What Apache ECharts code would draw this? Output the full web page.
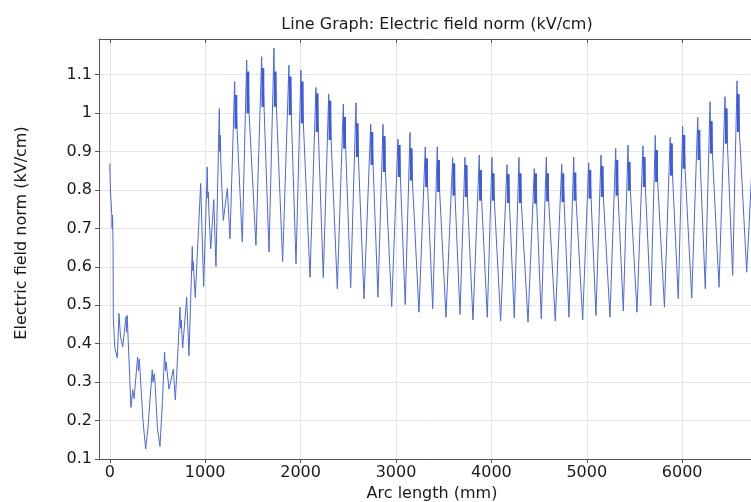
<!DOCTYPE html>
<html>
<head>
<meta charset="utf-8">
<script src="https://cdn.jsdelivr.net/npm/echarts@6/dist/echarts.min.js"></script>
<style>
html,body{margin:0;padding:0;background:#fff;}
#chart{width:751px;height:502px;}
</style>
</head>
<body>
<div id="chart"></div>
<script>
// Irregular start of the curve (arc length mm, field kV/cm)
const earlyX = [0, 7, 20, 25, 29, 34, 37, 52, 79, 96, 112, 135, 152, 170, 176, 182, 188, 201, 222, 240, 254, 292, 301, 309, 317, 348, 376, 400, 445, 453, 466, 474, 500, 526, 552, 575, 584, 592, 600, 621, 638, 666, 687, 710, 736, 742, 749, 753, 764, 806, 830, 865, 870, 876, 882, 896, 953, 984, 1022, 1027, 1033, 1038, 1058, 1090, 1113, 1148, 1153, 1159, 1164, 1190, 1202, 1232];
const earlyV = [0.869, 0.80, 0.739, 0.70, 0.735, 0.669, 0.47, 0.39, 0.363, 0.479, 0.42, 0.391, 0.386, 0.47, 0.43, 0.474, 0.44, 0.36, 0.234, 0.28, 0.257, 0.365, 0.33, 0.36, 0.33, 0.20, 0.126, 0.18, 0.332, 0.30, 0.322, 0.30, 0.18, 0.133, 0.25, 0.378, 0.33, 0.352, 0.33, 0.282, 0.278, 0.334, 0.254, 0.36, 0.495, 0.44, 0.462, 0.44, 0.389, 0.521, 0.369, 0.653, 0.59, 0.613, 0.578, 0.52, 0.817, 0.549, 0.86, 0.78, 0.795, 0.75, 0.647, 0.775, 0.601, 1.012, 0.90, 0.943, 0.87, 0.721, 0.718, 0.804];

// Regular periodic part: troughs and peaks of each period
const troughX = [1260, 1389, 1532, 1669, 1812, 1952, 2099, 2238, 2385, 2525, 2665, 2811, 2955, 3097, 3241, 3385, 3524, 3671, 3807, 3957, 4097, 4240, 4384, 4523, 4670, 4813, 4957, 5096, 5243, 5383, 5526, 5670, 5814, 5959, 6100, 6242, 6386, 6529, 6676];
const troughV = [0.673, 0.665, 0.656, 0.639, 0.614, 0.608, 0.573, 0.572, 0.543, 0.546, 0.517, 0.521, 0.497, 0.502, 0.482, 0.491, 0.469, 0.476, 0.462, 0.469, 0.459, 0.467, 0.456, 0.465, 0.459, 0.469, 0.462, 0.473, 0.469, 0.485, 0.482, 0.499, 0.495, 0.517, 0.519, 0.543, 0.547, 0.578, 0.586];
const peakX = [1309, 1435, 1592, 1721, 1878, 2004, 2161, 2295, 2448, 2581, 2735, 2864, 3021, 3147, 3307, 3433, 3594, 3723, 3873, 4006, 4164, 4289, 4450, 4576, 4737, 4863, 5020, 5149, 5303, 5432, 5589, 5718, 5874, 6005, 6163, 6292, 6449, 6575, 6780];
const peak1V = [1.082, 1.138, 1.147, 1.169, 1.125, 1.112, 1.067, 1.05, 1.024, 1.027, 0.971, 0.971, 0.932, 0.95, 0.912, 0.912, 0.884, 0.885, 0.891, 0.885, 0.866, 0.885, 0.856, 0.886, 0.867, 0.886, 0.871, 0.891, 0.908, 0.917, 0.915, 0.942, 0.937, 0.966, 0.989, 1.03, 1.043, 1.084, 1.10];
const peak2V = [1.047, 1.108, 1.117, 1.108, 1.095, 1.082, 1.051, 1.032, 0.99, 0.973, 0.951, 0.94, 0.917, 0.908, 0.882, 0.878, 0.869, 0.865, 0.852, 0.843, 0.841, 0.843, 0.843, 0.843, 0.843, 0.845, 0.852, 0.862, 0.878, 0.873, 0.886, 0.904, 0.921, 0.943, 0.956, 0.979, 1.012, 1.049, 1.06];
const bandV = [0.96, 1.0, 1.017, 1.017, 0.995, 0.974, 0.951, 0.93, 0.908, 0.886, 0.865, 0.847, 0.834, 0.825, 0.808, 0.795, 0.786, 0.782, 0.773, 0.773, 0.766, 0.766, 0.765, 0.771, 0.769, 0.773, 0.778, 0.782, 0.786, 0.799, 0.808, 0.821, 0.838, 0.856, 0.878, 0.895, 0.921, 0.951, 0.96];

const xTitle = 'Arc length (mm)';
const yTitle = 'Electric field norm (kV/cm)';
const chartTitle = 'Line Graph: Electric field norm (kV/cm)';

const pts = [];
for (let i = 0; i < earlyX.length; i++) pts.push([earlyX[i], earlyV[i]]);
const band = [];
for (let i = 0; i < troughX.length; i++) {
  pts.push([troughX[i], troughV[i]]);
  pts.push([peakX[i], peak1V[i]]);
  pts.push([peakX[i] + 9, bandV[i]]);
  pts.push([peakX[i] + 15, peak2V[i]]);
  pts.push([peakX[i] + 25, bandV[i]]);
  band.push([peakX[i] + 13, peak2V[i]]);
  band.push([peakX[i] + 13, bandV[i]]);
  band.push([peakX[i] + 13, null]);
}

const FONT = 'DejaVu Sans';
const TXT = '#1a1a1a';
const AX = '#555';
const chart = echarts.init(document.getElementById('chart'), null, {renderer: 'canvas'});
chart.setOption({
  animation: false,
  backgroundColor: '#ffffff',
  title: {
    text: chartTitle,
    left: 432, top: 12, textAlign: 'center',
    textStyle: {fontFamily: FONT, fontSize: 16, fontWeight: 'normal', color: TXT}
  },
  graphic: [{
    type: 'text', x: 22, y: 233, rotation: Math.PI / 2,
    style: {text: yTitle, fontFamily: FONT, fontSize: 16, fill: TXT, align: 'center', verticalAlign: 'middle'}
  }],
  grid: {left: 99, right: -14, top: 39, bottom: 43, containLabel: false, outerBoundsMode: 'none'},
  xAxis: [{
    type: 'value', min: -113, max: 6868, splitNumber: 7,
    name: xTitle, nameLocation: 'middle', nameGap: 24,
    nameTextStyle: {fontFamily: FONT, fontSize: 16, color: TXT},
    axisLine: {show: true, onZero: false, lineStyle: {color: AX, width: 1}},
    axisTick: {show: true, length: 4, inside: false, lineStyle: {color: AX}},
    axisLabel: {fontFamily: FONT, fontSize: 16, color: TXT, margin: 6, showMinLabel: false, showMaxLabel: false,
      formatter: v => String(Math.round(v))},
    splitLine: {show: true, lineStyle: {color: '#e5e5e5', width: 1}}
  }, {
    type: 'value', position: 'top', min: -113, max: 6868, splitNumber: 7,
    axisLine: {show: true, onZero: false, lineStyle: {color: AX, width: 1}},
    axisTick: {show: true, length: 4, inside: true, lineStyle: {color: AX}},
    axisLabel: {show: false},
    splitLine: {show: false}
  }],
  yAxis: {
    type: 'value', min: 0.1, max: 1.193, interval: 0.1,
    axisLine: {show: true, onZero: false, lineStyle: {color: AX, width: 1}},
    axisTick: {show: true, length: 4, lineStyle: {color: AX}},
    axisLabel: {fontFamily: FONT, fontSize: 16, color: TXT, margin: 7, showMaxLabel: false,
      formatter: v => (Math.round(v * 10) / 10).toString()},
    splitLine: {show: true, lineStyle: {color: '#e5e5e5', width: 1}}
  },
  series: [{
    type: 'line', xAxisIndex: 0, data: pts, showSymbol: false, symbol: 'none',
    lineStyle: {color: '#4b68dc', width: 1}, clip: true
  }, {
    type: 'line', xAxisIndex: 0, data: band, showSymbol: false, symbol: 'none', connectNulls: false,
    lineStyle: {color: '#3d5ad8', width: 2.8}, clip: true
  }]
});
</script>
</body>
</html>
